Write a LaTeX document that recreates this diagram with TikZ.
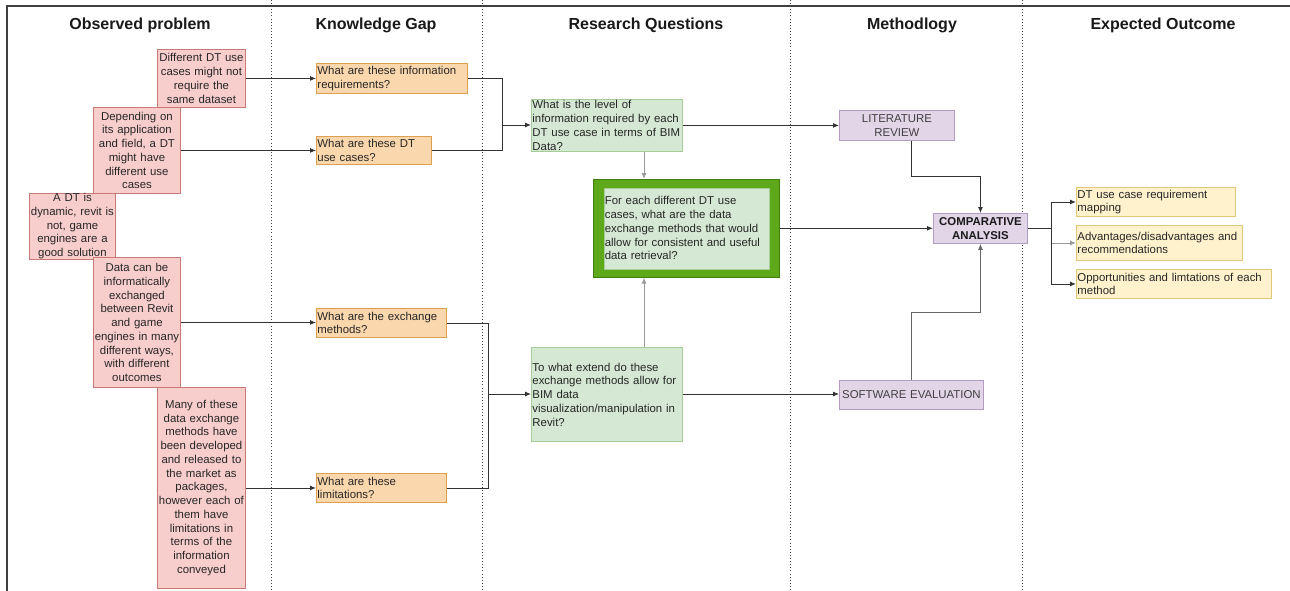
\documentclass[tikz,border=0pt]{standalone}
\usepackage{fontspec}
\setmainfont{Liberation Sans}
\usetikzlibrary{arrows.meta,positioning,calc}
\definecolor{probfill}{HTML}{F8CECC}
\definecolor{probdraw}{HTML}{C97A76}
\definecolor{gapfill}{HTML}{FAD7AC}
\definecolor{gapdraw}{HTML}{DDA050}
\definecolor{quesfill}{HTML}{D5E8D4}
\definecolor{quesdraw}{HTML}{A6CC98}
\definecolor{keyfill}{HTML}{5EA91A}
\definecolor{keydraw}{HTML}{3E7F10}
\definecolor{methfill}{HTML}{E1D5E7}
\definecolor{methdraw}{HTML}{B39BC2}
\definecolor{outfill}{HTML}{FFF2CC}
\definecolor{outdraw}{HTML}{E3C878}
\definecolor{linkcol}{HTML}{333333}
\tikzset{
  basebox/.style={
    rectangle,
    anchor=north west,
    font=\fontsize{11.4}{13.75}\selectfont,
    text=black!85,
    inner xsep=1pt,
    inner ysep=0pt,
    line width=0.9pt,
    },
  probbox/.style={basebox, draw=probdraw, fill=probfill, align=center},
  gapbox/.style={basebox, draw=gapdraw, fill=gapfill, align=left},
  quesbox/.style={basebox, draw=quesdraw, fill=quesfill, align=left},
  keyouter/.style={basebox, draw=keydraw, fill=keyfill, line width=0.6pt},
  methbox/.style={basebox, draw=methdraw, fill=methfill, align=center, text=black!75},
  outbox/.style={basebox, draw=outdraw, fill=outfill, align=left},
  coltitle/.style={font=\fontsize{16}{18}\selectfont\bfseries, text=black!90},
  colsep/.style={draw=black!75, line width=0.9pt, dash pattern=on 0.9pt off 2.2pt},
  frameline/.style={draw=black!75, line width=1.2pt},
  flow/.style={draw=linkcol, line width=0.9pt, -{Latex[length=6pt,width=5pt]}},
  link/.style={draw=linkcol, line width=0.9pt},
  softflow/.style={flow, draw=black!40},
}
\begin{document}
\begin{tikzpicture}[x=1pt,y=-1pt]
  \useasboundingbox (0,0) rectangle (1290,591);
  \draw[frameline] (7,591) -- (7,6) -- (1290,6);
  \foreach \sx in {271,482,790,1022}
    \draw[colsep] (\sx,0) -- (\sx,591);

  \node[coltitle] (t1) at (140,25) {Observed problem};
  \node[coltitle] (t2) at (376,25) {Knowledge Gap};
  \node[coltitle] (t3) at (646,25) {Research Questions};
  \node[coltitle] (t4) at (912,25) {Methodlogy};
  \node[coltitle] (t5) at (1163,25) {Expected Outcome};

  \node[probbox, minimum width=88pt, minimum height=58pt, text width=86pt] (p1) at (157,49)
    {Different DT use\\cases might not\\require the\\same dataset};
  \node[probbox, minimum width=87pt, minimum height=86pt, text width=85pt] (p2) at (93,107)
    {Depending on\\its application\\and field, a DT\\might have\\different use\\cases};
  \node[probbox, minimum width=86pt, minimum height=65pt, text width=84pt] (p3) at (29,193)
    {A DT is\\dynamic, revit is\\not, game\\engines are a\\good solution};
  \node[probbox, minimum width=87pt, minimum height=130pt, text width=85pt] (p4) at (93,257)
    {Data can be\\informatically\\exchanged\\between Revit\\and game\\engines in many\\different ways,\\with different\\outcomes};
  \node[probbox, minimum width=88pt, minimum height=201pt, text width=86pt] (p5) at (157,387)
    {Many of these\\data exchange\\methods have\\been developed\\and released to\\the market as\\packages,\\however each of\\them have\\limitations in\\terms of the\\information\\conveyed};

  \node[gapbox, minimum width=151pt, minimum height=30pt, text width=149pt] (k1) at (316,63)
    {What are these information\\requirements?};
  \node[gapbox, minimum width=115pt, minimum height=28pt, text width=113pt] (k2) at (316,136)
    {What are these DT\\use cases?};
  \node[gapbox, minimum width=130pt, minimum height=29pt, text width=128pt] (k3) at (316,308)
    {What are the exchange\\methods?};
  \node[gapbox, minimum width=130pt, minimum height=29pt, text width=128pt] (k4) at (316,473)
    {What are these\\limitations?};

  \node[quesbox, minimum width=151pt, minimum height=52pt, text width=149pt] (r1) at (531,99)
    {What is the level of\\information required by each\\DT use case in terms of BIM\\Data?};
  \node[keyouter, minimum width=186pt, minimum height=98pt] (r2) at (593,179) {};
  \node[quesbox, anchor=center, line width=0.5pt, minimum width=165pt, minimum height=81pt, text width=163pt] (r2in) at (r2.center)
    {For each different DT use\\cases, what are the data\\exchange methods that would\\allow for consistent and useful\\data retrieval?};
  \node[quesbox, minimum width=151pt, minimum height=94pt, text width=149pt] (r3) at (531,347)
    {To what extend do these\\exchange methods allow for\\BIM data\\visualization/manipulation in\\Revit?};

  \node[methbox, minimum width=115pt, minimum height=30pt, text width=113pt] (lr) at (839,110)
    {LITERATURE\\REVIEW};
  \node[methbox, minimum width=94pt, minimum height=30pt, text width=92pt, font=\fontsize{11.4}{13.75}\selectfont\bfseries, text=black!90] (ca) at (933,213)
    {COMPARATIVE\\ANALYSIS};
  \node[methbox, minimum width=144pt, minimum height=29pt, text width=142pt] (se) at (839,380)
    {SOFTWARE EVALUATION};

  \node[outbox, minimum width=159pt, minimum height=29pt, text width=157pt] (e1) at (1076,187)
    {DT use case requirement\\mapping};
  \node[outbox, minimum width=166pt, minimum height=35pt, text width=164pt] (e2) at (1076,225)
    {Advantages/disadvantages and\\recommendations};
  \node[outbox, minimum width=195pt, minimum height=29pt, text width=193pt] (e3) at (1076,269)
    {Opportunities and limtations of each\\method};

  \coordinate (m1) at (502,125);
  \coordinate (m2) at (488,394);
  \coordinate (vx) at (644,0);
  \coordinate (br) at (1051,228);

  \draw[flow] (p1.east) -- (p1.east -| k1.west);
  \draw[flow] (p2.east) -- (p2.east -| k2.west);
  \draw[flow] (p4.east) -- (p4.east -| k3.west);
  \draw[flow] (p5.east) -- (p5.east -| k4.west);

  \draw[link] (k1.east) -| (m1);
  \draw[link] (k2.east) -| (m1);
  \draw[flow] (m1) -- (m1 -| r1.west);
  \draw[link] (k3.east) -| (m2);
  \draw[link] (k4.east) -| (m2);
  \draw[flow] (m2) -- (m2 -| r3.west);

  \draw[softflow] (r1.south -| vx) -- (r2.north -| vx);
  \draw[softflow] (r3.north -| vx) -- (r2.south -| vx);

  \draw[flow] (r1.east) -- (r1.east -| lr.west);
  \draw[flow] (r2.east) -- (r2.east -| ca.west);
  \draw[flow] (r3.east |- m2) -- (m2 -| se.west);

  \draw[flow] (lr.south -| se.south) -- ++(0,36) -| (ca.north);
  \draw[flow, draw=black!60] (se.north) -- ++(0,-68) -| (ca.south);

  \draw[link] (ca.east |- br) -- (br);
  \draw[flow] (br) |- (e1.west);
  \draw[softflow] (br) |- (e2.west);
  \draw[flow] (br) |- (e3.west);
\end{tikzpicture}
\end{document}
